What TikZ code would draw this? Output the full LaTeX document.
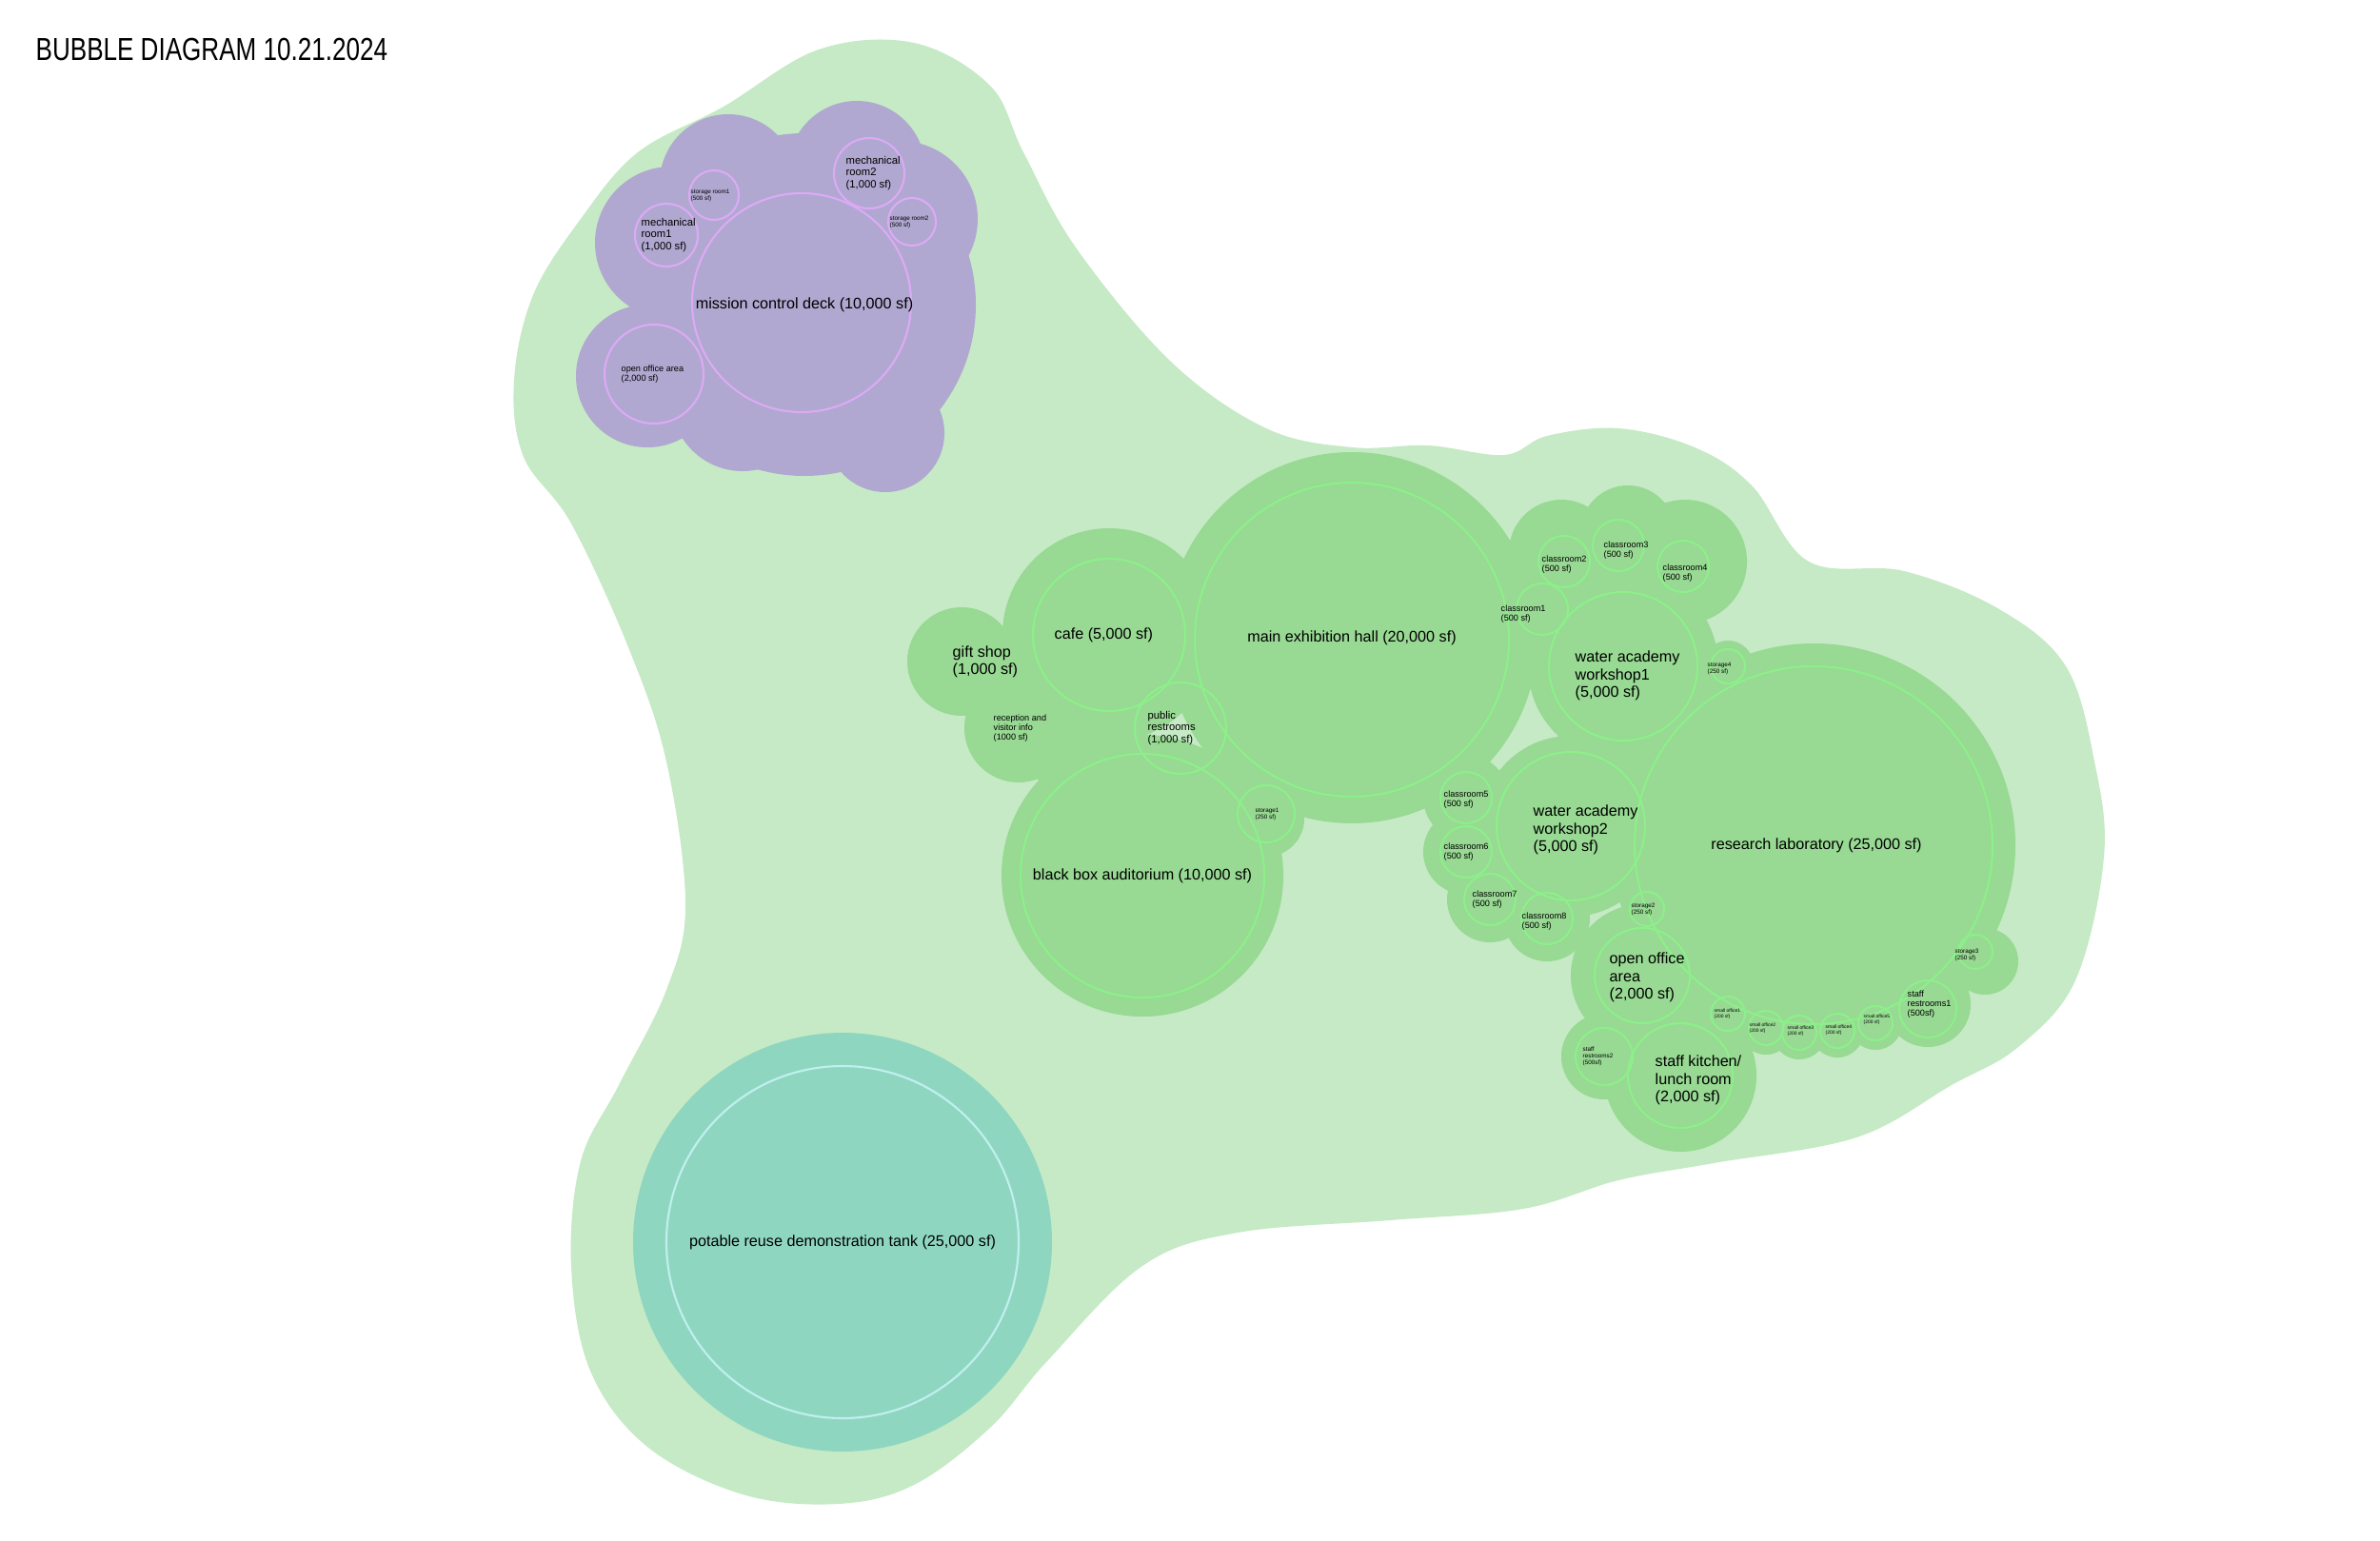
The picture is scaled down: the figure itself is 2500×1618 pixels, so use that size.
\documentclass[tikz,border=0pt]{standalone}
\usepackage{fontspec}
\setmainfont{Liberation Sans}
\definecolor{lg}{HTML}{C5EAC5}
\definecolor{dg}{HTML}{98D993}
\definecolor{rg}{HTML}{8CF08A}
\definecolor{pu}{HTML}{B0A8D0}
\definecolor{rp}{HTML}{DCAAF5}
\definecolor{tk}{HTML}{8FD6C1}
\definecolor{rt}{HTML}{C0F0EE}
\newcommand\bub[4]{\fill[#1] (#2,#3) circle[radius=#4*0.01cm];}
\newcommand\rng[4]{\draw[#1,line width=0.6pt] (#2,#3) circle[radius=#4*0.01cm];}
\tikzset{lab/.style={anchor=west,align=left,inner sep=0pt,text=black},
  big/.style={font=\fontsize{4.6}{5.2}\selectfont},
  mid/.style={font=\fontsize{3.2}{3.6}\selectfont},
  sml/.style={font=\fontsize{2.6}{2.9}\selectfont},
  tny/.style={font=\fontsize{1.8}{2}\selectfont}}
\begin{document}
\begin{tikzpicture}[x=0.01cm,y=-0.01cm]
\fill[white] (0,0) rectangle (2500,1618);
\useasboundingbox (0,0) rectangle (2500,1618);
\node[anchor=west,font=\fontsize{9.5}{10}\selectfont,xscale=0.78,transform shape] (title) at (28,52) {BUBBLE DIAGRAM 10.21.2024};
% outer light green
\fill[lg] plot[smooth cycle,tension=0.6] coordinates {(670,160)(760,112)(860,52)(960,45)(1040,90)(1075,160)(1130,260)(1230,380)(1330,450)(1420,470)(1500,468)(1580,478)(1625,458)(1700,450)(1780,470)(1840,510)(1900,590)(2000,600)(2100,640)(2170,700)(2200,800)(2210,900)(2180,1030)(2120,1100)(2050,1140)(1950,1195)(1800,1222)(1700,1240)(1600,1270)(1460,1282)(1300,1295)(1200,1330)(1100,1430)(1040,1500)(960,1560)(880,1580)(780,1570)(680,1520)(620,1440)(600,1330)(610,1220)(650,1140)(700,1040)(720,950)(700,800)(660,680)(600,550)(550,480)(540,400)(560,310)(610,230)};
% purple
\bub{pu}{845}{320}{180}\bub{pu}{705}{255}{80}\bub{pu}{680}{395}{75}\bub{pu}{930}{455}{62}
\bub{pu}{945}{230}{82}\bub{pu}{780}{420}{75}\bub{pu}{900}{178}{72}\bub{pu}{765}{192}{72}
\rng{rp}{842}{318}{115}\rng{rp}{700}{247}{33}\rng{rp}{750}{205}{26}\rng{rp}{913}{182}{37}\rng{rp}{958}{233}{25}\rng{rp}{687}{393}{52}
\node[big] (mcd) at (845,320) {mission control deck (10,000 sf)};
\node[lab,mid] (mr1) at (673,247) {mechanical\\room1\\(1,000 sf)};
\node[lab,tny] (sr1) at (725,205) {storage room1\\(500 sf)};
\node[lab,mid] (mr2) at (888,182) {mechanical\\room2\\(1,000 sf)};
\node[lab,tny] (sr2) at (934,233) {storage room2\\(500 sf)};
\node[lab,sml] (oo1) at (652,393) {open office area\\(2,000 sf)};
% dark green
\foreach \x/\y/\r in {1420/670/195,1165/667/112,1010/695/57,1070/765/57,1125/770/60,1200/920/148,1330/860/40,
 1640/580/55,1710/560/50,1770/590/65,1620/640/45,1705/700/100,1815/700/27,1905/888/212,2085/1010/35,
 1650/868/95,1540/838/45,1540/895/45,1565/945/45,1625/965/45,1580/910/60,1725/1025/75,1765/1130/80,
 1685/1110/45,1815/1065/28,1855/1080/28,1890/1085/28,1930/1083/28,1970/1075/28,2025/1055/45,2075/1000/30}
 {\bub{dg}{\x}{\y}{\r}}
\foreach \x/\y/\r in {1420/672/165,1165/667/80,1240/765/48,1200/920/128,1330/855/30,
 1620/640/27,1643/590/27,1700/573/27,1768/595/27,1705/700/78,1815/700/18,1905/888/188,1650/868/78,
 1540/838/27,1540/895/27,1565/945/27,1625/965/27,1730/955/18,1725/1025/50,1765/1130/55,1685/1110/30,
 1815/1065/18,1855/1080/18,1890/1085/18,1930/1083/18,1970/1075/18,2025/1060/30,2075/1000/18}
 {\rng{rg}{\x}{\y}{\r}}
\node[big] (meh) at (1420,670) {main exhibition hall (20,000 sf)};
\node[lab,big] (cafe) at (1107,667) {cafe (5,000 sf)};
\node[lab,big] (gift) at (1000,695) {gift shop\\(1,000 sf)};
\node[lab,sml] (rec) at (1043,765) {reception and\\visitor info\\(1000 sf)};
\node[lab,mid] (pr) at (1205,765) {public\\restrooms\\(1,000 sf)};
\node[big] (bba) at (1200,920) {black box auditorium (10,000 sf)};
\node[lab,tny] (st1) at (1318,855) {storage1\\(250 sf)};
\node[lab,sml] (c1) at (1576,645) {classroom1\\(500 sf)};
\node[lab,sml] (c2) at (1619,593) {classroom2\\(500 sf)};
\node[lab,sml] (c3) at (1684,578) {classroom3\\(500 sf)};
\node[lab,sml] (c4) at (1746,602) {classroom4\\(500 sf)};
\node[lab,big] (w1) at (1654,710) {water academy\\workshop1\\(5,000 sf)};
\node[lab,tny] (st4) at (1793,702) {storage4\\(250 sf)};
\node[lab,sml] (c5) at (1516,840) {classroom5\\(500 sf)};
\node[lab,sml] (c6) at (1516,895) {classroom6\\(500 sf)};
\node[lab,sml] (c7) at (1546,945) {classroom7\\(500 sf)};
\node[lab,sml] (c8) at (1598,968) {classroom8\\(500 sf)};
\node[lab,big] (w2) at (1610,872) {water academy\\workshop2\\(5,000 sf)};
\node[big] (rl) at (1908,888) {research laboratory (25,000 sf)};
\node[lab,tny] (st2) at (1713,955) {storage2\\(250 sf)};
\node[lab,big] (oo2) at (1690,1027) {open office\\area\\(2,000 sf)};
\node[lab,tny] (sr2b) at (1662,1110) {staff\\restrooms2\\(500sf)};
\node[lab,big] (sk) at (1738,1135) {staff kitchen/\\lunch room\\(2,000 sf)};
\node[lab,font=\fontsize{1.4}{1.6}\selectfont] (o1) at (1800,1065) {small office1\\(200 sf)};
\node[lab,font=\fontsize{1.4}{1.6}\selectfont] (o2) at (1837,1080) {small office2\\(200 sf)};
\node[lab,font=\fontsize{1.4}{1.6}\selectfont] (o3) at (1877,1083) {small office3\\(200 sf)};
\node[lab,font=\fontsize{1.4}{1.6}\selectfont] (o4) at (1917,1082) {small office4\\(200 sf)};
\node[lab,font=\fontsize{1.4}{1.6}\selectfont] (o5) at (1957,1071) {small office5\\(200 sf)};
\node[lab,sml] (sr1b) at (2003,1055) {staff\\restrooms1\\(500sf)};
\node[lab,tny] (st3) at (2053,1003) {storage3\\(250 sf)};
% tank
\bub{tk}{885}{1305}{220}
\rng{rt}{885}{1305}{185}
\node[big] (tank) at (885,1305) {potable reuse demonstration tank (25,000 sf)};
\end{tikzpicture}
\end{document}
